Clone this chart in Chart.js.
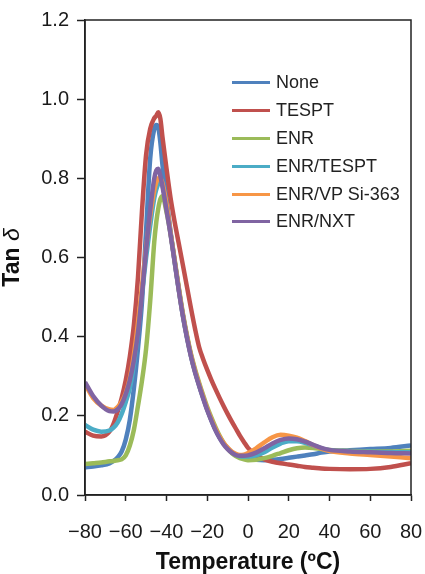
<!DOCTYPE html>
<html>
<head>
<meta charset="utf-8">
<script src="https://cdn.jsdelivr.net/npm/chart.js@4"></script>
<style>
  body { margin: 0; background: #fff; }
  #wrap { position: relative; width: 425px; height: 574px; }
  #legend { position: absolute; left: 232px; top: 69px; font: 18px Arial, "Liberation Sans", sans-serif; color: #222; }
  .item { height: 27.8px; display: flex; align-items: center; white-space: nowrap; }
  .swatch { width: 38px; height: 3px; margin-right: 6px; }
</style>
</head>
<body>
<div id="wrap">
  <canvas id="myChart" width="425" height="574"></canvas>
  <div id="legend"></div>
</div>
<script>
// temperature grid (°C) shared by all series
const temps = [-80, -76, -72, -68, -66, -64, -62, -60, -58, -56, -54, -52, -50, -48, -46, -45, -44, -43, -42, -40,
  -38, -36, -34, -32, -30, -28, -26, -24, -22, -20, -18, -16, -14, -12, -10, -8, -6, -4, -2, 0,
  4, 8, 12, 16, 20, 24, 28, 32, 36, 40, 50, 60, 70, 80];

const seriesNames = ["None", "TESPT", "ENR", "ENR/TESPT", "ENR/VP Si-363", "ENR/NXT"];

const none = [0.070, 0.072, 0.075, 0.080, 0.086, 0.095, 0.110, 0.140, 0.190, 0.270, 0.370, 0.490, 0.670, 0.850, 0.925, 0.935, 0.928, 0.890, 0.835, 0.750,
  0.665, 0.590, 0.520, 0.455, 0.400, 0.352, 0.312, 0.278, 0.246, 0.216, 0.190, 0.166, 0.146, 0.130, 0.118, 0.108, 0.101, 0.097, 0.094, 0.092,
  0.089, 0.088, 0.089, 0.091, 0.094, 0.097, 0.100, 0.103, 0.107, 0.110, 0.113, 0.116, 0.119, 0.125];

const tespt = [0.160, 0.150, 0.148, 0.160, 0.180, 0.210, 0.245, 0.290, 0.350, 0.430, 0.550, 0.720, 0.860, 0.925, 0.952, 0.958, 0.967, 0.950, 0.905, 0.825,
  0.750, 0.690, 0.636, 0.582, 0.527, 0.472, 0.420, 0.374, 0.343, 0.316, 0.291, 0.268, 0.246, 0.225, 0.205, 0.186, 0.168, 0.150, 0.134, 0.119,
  0.100, 0.090, 0.084, 0.080, 0.077, 0.074, 0.071, 0.069, 0.067, 0.066, 0.065, 0.066, 0.071, 0.080];

const enr = [0.078, 0.080, 0.082, 0.085, 0.086, 0.088, 0.090, 0.100, 0.125, 0.165, 0.225, 0.290, 0.370, 0.490, 0.640, 0.690, 0.725, 0.748, 0.755, 0.715,
  0.660, 0.595, 0.525, 0.460, 0.405, 0.357, 0.318, 0.284, 0.252, 0.222, 0.196, 0.172, 0.150, 0.132, 0.117, 0.106, 0.098, 0.093, 0.090, 0.088,
  0.089, 0.093, 0.099, 0.106, 0.113, 0.118, 0.120, 0.119, 0.116, 0.114, 0.111, 0.110, 0.110, 0.112];

const enrTespt = [0.177, 0.165, 0.160, 0.163, 0.170, 0.183, 0.205, 0.235, 0.270, 0.330, 0.410, 0.510, 0.600, 0.680, 0.750, 0.772, 0.786, 0.790, 0.782, 0.730,
  0.660, 0.590, 0.520, 0.455, 0.400, 0.352, 0.312, 0.278, 0.246, 0.216, 0.190, 0.166, 0.146, 0.130, 0.118, 0.108, 0.102, 0.098, 0.097, 0.097,
  0.100, 0.108, 0.120, 0.130, 0.136, 0.136, 0.132, 0.125, 0.118, 0.113, 0.110, 0.109, 0.108, 0.108];

const enrVp = [0.280, 0.245, 0.226, 0.216, 0.215, 0.222, 0.236, 0.258, 0.295, 0.355, 0.435, 0.530, 0.625, 0.705, 0.770, 0.790, 0.800, 0.800, 0.788, 0.735,
  0.662, 0.592, 0.522, 0.457, 0.402, 0.354, 0.314, 0.280, 0.248, 0.218, 0.192, 0.168, 0.148, 0.132, 0.120, 0.110, 0.104, 0.101, 0.102, 0.106,
  0.118, 0.133, 0.146, 0.152, 0.150, 0.145, 0.136, 0.126, 0.117, 0.111, 0.105, 0.101, 0.097, 0.093];

const enrNxt = [0.285, 0.250, 0.226, 0.212, 0.211, 0.216, 0.230, 0.255, 0.290, 0.340, 0.410, 0.510, 0.620, 0.720, 0.800, 0.820, 0.824, 0.805, 0.780, 0.720,
  0.658, 0.588, 0.518, 0.453, 0.398, 0.350, 0.310, 0.276, 0.244, 0.214, 0.188, 0.164, 0.144, 0.128, 0.116, 0.107, 0.101, 0.099, 0.099, 0.100,
  0.107, 0.118, 0.130, 0.139, 0.143, 0.141, 0.135, 0.127, 0.119, 0.114, 0.110, 0.108, 0.106, 0.105];

const xTickValues = [-80, -60, -40, -20, 0, 20, 40, 60, 80];
const xTickLabels = ["\u221280", "\u221260", "\u221240", "\u221220", "0", "20", "40", "60", "80"];
const yTickLabels = ["0.0", "0.2", "0.4", "0.6", "0.8", "1.0", "1.2"];

const allSeries = [none, tespt, enr, enrTespt, enrVp, enrNxt];
const colors = ["#4F81BD", "#C0504D", "#9BBB59", "#4BACC6", "#F79646", "#8064A2"];
const font = 'Arial, "Liberation Sans", sans-serif';

// box round the plot + y title with bold "Tan" and italic delta
const framePlugin = {
  id: "frame",
  afterDatasetsDraw(chart) {
    const { ctx, chartArea: a } = chart;
    ctx.save();
    ctx.strokeStyle = "#222";
    ctx.lineWidth = 1.5;
    ctx.strokeRect(a.left, a.top, a.right - a.left, a.bottom - a.top);
    ctx.restore();
  },
  afterDraw(chart) {
    const { ctx, chartArea: a } = chart;
    ctx.save();
    ctx.translate(13, (a.top + a.bottom) / 2);
    ctx.rotate(-Math.PI / 2);
    ctx.textBaseline = "middle";
    ctx.textAlign = "left";
    ctx.fillStyle = "#111";
    const bold = "bold 23px " + font;
    const ital = "italic 23px " + font;
    ctx.font = bold;
    const w1 = ctx.measureText("Tan ").width;
    ctx.font = ital;
    const w2 = ctx.measureText("\u03b4").width;
    const x0 = -(w1 + w2) / 2;
    ctx.font = bold;
    ctx.fillText("Tan ", x0, 0);
    ctx.font = ital;
    ctx.fillText("\u03b4", x0 + w1, 0);
    ctx.restore();
  }
};

function buildDatasets() {
  return allSeries.map((vals, i) => ({
    label: seriesNames[i],
    data: vals.map((v, j) => ({ x: temps[j], y: v })),
    borderColor: colors[i],
    backgroundColor: colors[i],
    borderWidth: 4.5,
    pointRadius: 0,
    cubicInterpolationMode: "monotone",
    order: allSeries.length - i
  }));
}

function buildLegend() {
  const legend = document.querySelector("#legend");
  seriesNames.forEach((name, i) => {
    const item = document.createElement("div");
    item.className = "item";
    item.innerHTML = '<span class="swatch" style="background:' + colors[i] + '"></span>' + name;
    legend.appendChild(item);
  });
}

function plotChart() {
  const ctx = document.getElementById("myChart").getContext("2d");
  new Chart(ctx, {
    type: "line",
    data: { datasets: buildDatasets() },
    plugins: [framePlugin],
    options: {
      responsive: false,
      animation: false,
      devicePixelRatio: 1,
      layout: { padding: { top: 19, right: 14, left: 0, bottom: 0 } },
      plugins: { legend: { display: false }, tooltip: { enabled: false } },
      scales: {
        x: {
          type: "linear",
          min: -80,
          max: 80,
          afterFit: (scale) => {
            scale.height = 79;
            scale.paddingLeft = 0;
            scale.paddingRight = 0;
          },
          afterBuildTicks: (scale) => { scale.ticks = xTickValues.map((v) => ({ value: v })); },
          ticks: {
            color: "#1a1a1a",
            font: { family: font, size: 20 },
            padding: 19,
            maxRotation: 0,
            callback: (v) => xTickLabels[xTickValues.indexOf(v)]
          },
          grid: { drawOnChartArea: false, drawTicks: true, tickLength: 6, tickColor: "#222", tickWidth: 1.5 },
          border: { color: "#222", width: 1.5 },
          title: {
            display: true,
            text: "Temperature (\u00baC)",
            color: "#111",
            font: { family: font, size: 23, weight: "bold", lineHeight: 1 },
            padding: { top: 0, bottom: 0 }
          }
        },
        y: {
          min: 0,
          max: 1.2,
          afterFit: (scale) => { scale.width = 85; },
          ticks: {
            stepSize: 0.2,
            color: "#1a1a1a",
            font: { family: font, size: 20 },
            padding: 8,
            callback: (v) => yTickLabels[Math.round(v / 0.2)]
          },
          grid: { drawOnChartArea: false, drawTicks: true, tickLength: 8, tickColor: "#222", tickWidth: 1.5 },
          border: { color: "#222", width: 1.5 }
        }
      }
    }
  });
}

function main() {
  buildLegend();
  plotChart();
}

main();
</script>
</body>
</html>
